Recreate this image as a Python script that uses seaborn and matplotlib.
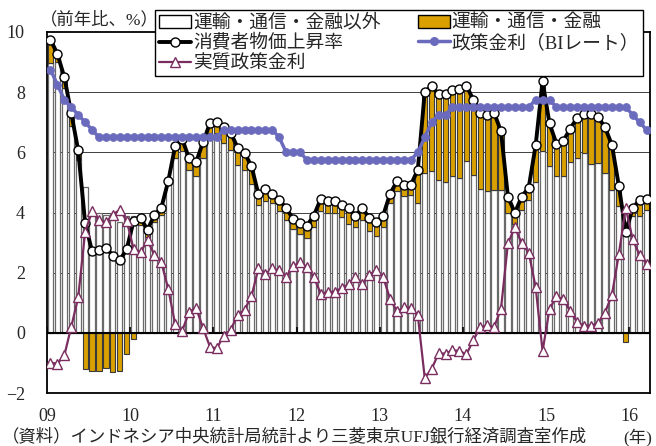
import numpy as np
import pandas as pd
import matplotlib
matplotlib.use("Agg")
import matplotlib.pyplot as plt
import seaborn as sns
from matplotlib.patches import Patch
from matplotlib.lines import Line2D

# monthly data, 2009/01 - 2016/03
year_labels = ["09", "10", "11", "12", "13", "14", "15", "16"]

cpi = [9.75, 9.27, 8.50, 7.30, 6.07, 3.65, 2.71, 2.75, 2.83, 2.57, 2.41, 2.78,
       3.72, 3.81, 3.43, 3.91, 4.16, 5.05, 6.22, 6.44, 5.80, 5.67, 6.33, 6.96,
       7.02, 6.84, 6.65, 6.16, 5.98, 5.54, 4.61, 4.79, 4.61, 4.42, 4.15, 3.79,
       3.65, 3.56, 3.90, 4.45, 4.39, 4.38, 4.26, 4.14, 3.90, 4.14, 3.82, 3.67,
       3.90, 4.62, 5.04, 4.90, 4.92, 5.42, 8.00, 8.20, 7.93, 7.94, 8.08, 8.10,
       8.22, 7.75, 7.32, 7.25, 7.32, 6.70, 4.53, 3.99, 4.53, 4.83, 6.23, 8.36,
       6.96, 6.29, 6.38, 6.79, 7.15, 7.26, 7.26, 7.18, 6.83, 6.25, 4.89, 3.35,
       4.14, 4.42, 4.45]

bi_rate = [8.75, 8.25, 7.75, 7.50, 7.25, 7.00, 6.75, 6.50, 6.50, 6.50, 6.50, 6.50,
           6.50, 6.50, 6.50, 6.50, 6.50, 6.50, 6.50, 6.50, 6.50, 6.50, 6.50, 6.50,
           6.50, 6.75, 6.75, 6.75, 6.75, 6.75, 6.75, 6.75, 6.75, 6.50, 6.00, 6.00,
           6.00, 5.75, 5.75, 5.75, 5.75, 5.75, 5.75, 5.75, 5.75, 5.75, 5.75, 5.75,
           5.75, 5.75, 5.75, 5.75, 5.75, 6.00, 6.50, 7.00, 7.25, 7.25, 7.50, 7.50,
           7.50, 7.50, 7.50, 7.50, 7.50, 7.50, 7.50, 7.50, 7.50, 7.50, 7.75, 7.75,
           7.75, 7.50, 7.50, 7.50, 7.50, 7.50, 7.50, 7.50, 7.50, 7.50, 7.50, 7.50,
           7.25, 7.00, 6.75]

real_rate = [-1.00, -1.02, -0.75, 0.20, 1.18, 3.35, 4.04, 3.75, 3.67, 3.93, 4.09, 3.72,
             2.78, 2.69, 3.07, 2.59, 2.34, 1.45, 0.28, 0.06, 0.70, 0.83, 0.17, -0.46,
             -0.52, -0.09, 0.10, 0.59, 0.77, 1.21, 2.14, 1.96, 2.14, 2.08, 1.85, 2.21,
             2.35, 2.19, 1.85, 1.30, 1.36, 1.37, 1.49, 1.61, 1.85, 1.61, 1.93, 2.08,
             1.85, 1.13, 0.71, 0.85, 0.83, 0.58, -1.50, -1.20, -0.68, -0.69, -0.58, -0.60,
             -0.72, -0.25, 0.18, 0.25, 0.18, 0.80, 2.97, 3.51, 2.97, 2.67, 1.52, -0.61,
             0.79, 1.21, 1.12, 0.71, 0.35, 0.24, 0.24, 0.32, 0.67, 1.25, 2.61, 4.15,
             3.11, 2.58, 2.30]

# contribution excluding transport/communication/finance
other_contrib = [8.97, 9.00, 8.13, 6.86, 5.75, 4.84, 4.00, 3.98, 3.92, 3.98, 3.70, 3.87,
                 3.90, 3.60, 3.17, 3.68, 3.92, 4.95, 5.81, 6.03, 5.42, 5.20, 5.81, 6.64,
                 6.64, 6.30, 6.08, 5.58, 5.40, 4.94, 4.26, 4.37, 4.30, 4.06, 3.76, 3.45,
                 3.28, 3.15, 3.53, 4.06, 3.98, 3.98, 3.86, 3.62, 3.53, 3.76, 3.39, 3.23,
                 3.53, 4.31, 4.70, 4.56, 4.58, 4.33, 5.30, 5.38, 5.08, 5.00, 5.20, 5.14,
                 5.70, 5.25, 4.79, 4.70, 4.75, 4.75, 3.98, 3.61, 4.09, 4.40, 5.01, 6.05,
                 5.53, 5.20, 5.20, 5.67, 5.81, 5.97, 5.61, 5.64, 5.31, 4.75, 4.20, 3.65,
                 3.87, 3.90, 4.09]

# contribution of transport/communication/finance
tcf_contrib = [0.78, 0.27, 0.37, 0.44, 0.32, -1.20, -1.27, -1.27, -1.17, -1.30, -1.27, -0.70,
               -0.20, 0.20, 0.29, 0.25, 0.25, 0.10, 0.45, 0.38, 0.41, 0.50, 0.50, 0.36,
               0.39, 0.56, 0.55, 0.56, 0.60, 0.59, 0.35, 0.42, 0.30, 0.37, 0.39, 0.34,
               0.37, 0.39, 0.37, 0.40, 0.41, 0.40, 0.39, 0.50, 0.35, 0.38, 0.42, 0.43,
               0.35, 0.31, 0.35, 0.33, 0.33, 1.10, 2.70, 2.82, 2.85, 2.94, 2.88, 2.96,
               2.52, 2.50, 2.53, 2.55, 2.57, 1.97, 0.55, 0.40, 0.45, 0.45, 1.22, 2.31,
               1.43, 1.09, 1.18, 1.12, 1.34, 1.29, 1.65, 1.54, 1.52, 1.50, 0.69, -0.30,
               0.30, 0.50, 0.37]

df = pd.DataFrame({
    "cpi": cpi,
    "bi": bi_rate,
    "real": real_rate,
    "other": other_contrib,
    "tcf": tcf_contrib,
})
df["month"] = np.arange(len(df))
# orange part sits on top of the white bar when positive, hangs from 0 when negative
df["tcf_bottom"] = np.where(df["tcf"] > 0, df["other"], 0)

sns.set_style("white")
plt.rcParams["font.family"] = ["Liberation Serif", "Noto Sans CJK JP"]

orange = "#D9A000"
purple = "#7A2E60"
blue = "#6B6BBE"

fig = plt.figure(figsize=(6.56, 4.46), dpi=100)
ax = fig.add_axes([47 / 656, 1 - 393 / 446, (650 - 47) / 656, (393 - 32) / 446])

# grid lines
for g in [2, 4, 6, 8]:
    ax.axhline(g, color="#404040", lw=0.7, zorder=1)

sns.barplot(data=df, x="month", y="other", native_scale=True, color="white",
            edgecolor="#6a6a6a", linewidth=0.9, width=0.75, errorbar=None,
            ax=ax, zorder=2)
ax.bar(df["month"], df["tcf"], bottom=df["tcf_bottom"], width=0.75,
       color=orange, edgecolor="#3a3a3a", linewidth=0.8, zorder=2)

ax.axhline(0, color="black", lw=1.5, zorder=3)
year_pos = [-0.5 + 12 * k for k in range(len(year_labels))]
ax.vlines(year_pos, 0, 0.2, color="black", lw=1.2, zorder=3)

sns.lineplot(data=df, x="month", y="cpi", color="black", lw=2.8, marker="o",
             markersize=6.5, markerfacecolor="white", markeredgecolor="black",
             markeredgewidth=1.0, ax=ax, zorder=4)
sns.lineplot(data=df, x="month", y="real", color=purple, lw=1.6, marker="^",
             markersize=6.5, markerfacecolor="white", markeredgecolor=purple,
             markeredgewidth=1.0, ax=ax, zorder=5)
sns.lineplot(data=df, x="month", y="bi", color=blue, lw=2.5, marker="o",
             markersize=5.5, markeredgecolor=blue, ax=ax, zorder=6)

ax.set_xlim(-0.5, 86.5)
ax.set_ylim(-2, 10)
ax.set_yticks(range(-2, 11, 2))
ax.set_xticks(year_pos)
ax.set_xticklabels(year_labels)
ax.set_xlabel("")
ax.set_ylabel("")
ax.tick_params(axis="y", length=0, pad=16, labelsize=13)
ax.tick_params(axis="x", length=0, pad=11, labelsize=13)
for s in ax.spines.values():
    s.set_color("black")
    s.set_linewidth(1.3)

handles = [
    Patch(facecolor="white", edgecolor="black", lw=1.0),
    Line2D([], [], color="black", lw=2.8, marker="o", ms=6.5, mfc="white", mec="black"),
    Line2D([], [], color=purple, lw=1.6, marker="^", ms=6.5, mfc="white", mec=purple),
    Patch(facecolor=orange, edgecolor="black", lw=1.0),
    Line2D([], [], color=blue, lw=2.5, marker="o", ms=5.5, mec=blue),
]
labels = ["運輸・通信・金融以外", "消費者物価上昇率", "実質政策金利",
          "運輸・通信・金融", "政策金利（BIレート）"]
leg = fig.legend(handles, labels, ncol=2, loc="upper left",
                 bbox_to_anchor=(155 / 656, 1 - 10 / 446), frameon=True,
                 fancybox=False, edgecolor="black", framealpha=1, fontsize=13.5,
                 handlelength=1.7, handletextpad=0.1, columnspacing=2.0,
                 labelspacing=0.12, borderpad=0.22, borderaxespad=0)
leg.get_frame().set_linewidth(1.0)

fig.text(40 / 656, 1 - 20 / 446, "（前年比、%）", fontsize=12.5, va="center", ha="left")
fig.text(2 / 656, 1 - 437 / 446, "（資料）インドネシア中央統計局統計より三菱東京UFJ銀行経済調査室作成",
         fontsize=12.5, va="center", ha="left")
fig.text(638 / 656, 1 - 437 / 446, "(年)", fontsize=12.5, va="center", ha="center")

fig.savefig("out.png", dpi=100)
